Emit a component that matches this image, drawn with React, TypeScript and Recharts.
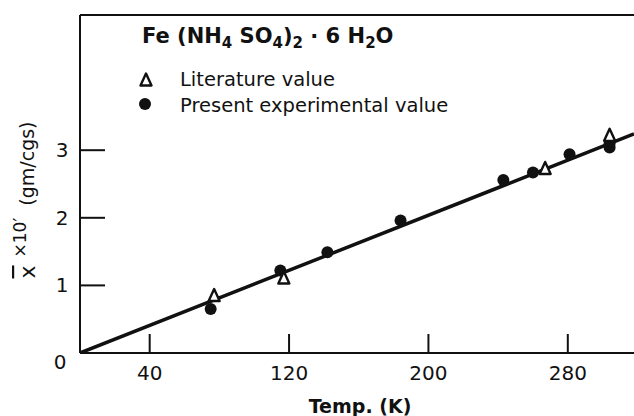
import { ScatterChart, Scatter, XAxis, YAxis, ReferenceLine, Label } from "recharts";

// temperature (K) vs susceptibility
const experimental = [
  { x: 75, y: 0.65 },
  { x: 115, y: 1.22 },
  { x: 142, y: 1.49 },
  { x: 184, y: 1.96 },
  { x: 243, y: 2.56 },
  { x: 260, y: 2.67 },
  { x: 281, y: 2.94 },
  { x: 304, y: 3.04 },
  { x: 304, y: 3.1 },
];
const literature = [
  { x: 77, y: 0.85 },
  { x: 117, y: 1.11 },
  { x: 267, y: 2.73 },
  { x: 304, y: 3.22 },
];
const fitLine = [
  { x: 0, y: 0 },
  { x: 318, y: 3.24 },
];
const xTicks = [40, 120, 200, 280];
const yTicks = [0, 1, 2, 3];

const FONT = "'DejaVu Sans', sans-serif";
const INK = "#111";

function Dot({ cx, cy }: { cx?: number; cy?: number }) {
  if (cx == null || cy == null) return null;
  return <circle cx={cx} cy={cy} r={6} fill={INK} />;
}

function Tri({ cx, cy }: { cx?: number; cy?: number }) {
  if (cx == null || cy == null) return null;
  const s = 5.5;
  return (
    <path
      d={`M${cx},${cy - s - 1} L${cx + s},${cy + s} L${cx - s},${cy + s} Z`}
      fill="#fff"
      stroke={INK}
      strokeWidth={2.4}
      strokeLinejoin="round"
    />
  );
}

function YTick(props: any) {
  const { x, y, payload } = props;
  const v = payload.value;
  if (v === 0) {
    return (
      <text x={x - 20} y={y + 9} textAnchor="middle" dominantBaseline="central" fontSize={20} fontFamily={FONT} fill={INK}>
        0
      </text>
    );
  }
  return (
    <g>
      <line x1={x} x2={x + 25} y1={y} y2={y} stroke={INK} strokeWidth={2} />
      <text x={x - 18} y={y} textAnchor="middle" dominantBaseline="central" fontSize={20} fontFamily={FONT} fill={INK}>
        {v}
      </text>
    </g>
  );
}

function XTick(props: any) {
  const { x, y, payload } = props;
  return (
    <g>
      <line x1={x} x2={x} y1={y} y2={y - 19} stroke={INK} strokeWidth={2} />
      <text x={x} y={y + 20} textAnchor="middle" dominantBaseline="central" fontSize={20} fontFamily={FONT} fill={INK}>
        {payload.value}
      </text>
    </g>
  );
}

function ChartLegend() {
  return (
    <div style={{ position: "absolute", left: 0, top: 0, width: 634, height: 120, pointerEvents: "none", fontFamily: FONT, color: INK }}>
      <div style={{ position: "absolute", left: 142, top: 22, fontSize: 21, fontWeight: 600, whiteSpace: "nowrap", lineHeight: "28px" }}>
        Fe (NH<sub style={{ fontSize: 15 }}>4</sub> SO<sub style={{ fontSize: 15 }}>4</sub>)<sub style={{ fontSize: 15 }}>2</sub> · 6 H<sub style={{ fontSize: 15 }}>2</sub>O
      </div>
      <svg width={634} height={120} style={{ position: "absolute", left: 0, top: 0 }}>
        <Tri cx={146} cy={80} />
        <Dot cx={145} cy={104} />
        <text x={180} y={79} dominantBaseline="central" fontSize={19.5} fontFamily={FONT} fill={INK}>
          Literature value
        </text>
        <text x={180} y={105} dominantBaseline="central" fontSize={19.5} fontFamily={FONT} fill={INK}>
          Present experimental value
        </text>
      </svg>
    </div>
  );
}

export default function App() {
  return (
    <div style={{ position: "absolute", left: 0, top: 0, width: 634, height: 416, background: "#fff" }}>
      <ScatterChart width={634} height={416} margin={{ top: 15, right: 0, left: 40, bottom: 33 }}>
        <XAxis
          type="number"
          dataKey="x"
          domain={[0, 318]}
          ticks={xTicks}
          height={30}
          tickSize={0}
          tickMargin={0}
          tick={<XTick />}
          axisLine={{ stroke: INK, strokeWidth: 2 }}
          tickLine={false}
          allowDataOverflow
        >
          <Label
            content={(p: any) => (
              <text
                x={p.viewBox.x + p.viewBox.width / 2 + 3}
                y={p.viewBox.y + 53}
                textAnchor="middle"
                dominantBaseline="central"
                fontSize={19}
                fontWeight={600}
                fontFamily={FONT}
                fill={INK}
              >
                Temp. (K)
              </text>
            )}
          />
        </XAxis>
        <YAxis
          type="number"
          dataKey="y"
          domain={[0, 5]}
          ticks={yTicks}
          width={40}
          tickSize={0}
          tickMargin={0}
          tick={<YTick />}
          axisLine={{ stroke: INK, strokeWidth: 2 }}
          tickLine={false}
          allowDataOverflow
        >
          <Label
            content={(p: any) => {
              const cx = 27;
              const cy = p.viewBox.y + p.viewBox.height / 2 + 16;
              return (
                <text
                  transform={`translate(${cx},${cy}) rotate(-90)`}
                  textAnchor="middle"
                  dominantBaseline="central"
                  fontSize={19}
                  fontFamily={FONT}
                  fill={INK}
                >
                  <tspan fontSize={22} style={{ textDecoration: "overline" }}>x</tspan>
                  <tspan dx={8} dy={-7} fontSize={17}>×10′</tspan>
                  <tspan dx={12} dy={7}>(gm/cgs)</tspan>
                </text>
              );
            }}
          />
        </YAxis>
        <ReferenceLine y={5} stroke={INK} strokeWidth={2} />
        <Scatter
          data={fitLine}
          line={{ stroke: INK, strokeWidth: 3.5 }}
          shape={() => null}
          isAnimationActive={false}
        />
        <Scatter data={experimental} shape={<Dot />} isAnimationActive={false} />
        <Scatter data={literature} shape={<Tri />} isAnimationActive={false} />
      </ScatterChart>
      <ChartLegend />
    </div>
  );
}
